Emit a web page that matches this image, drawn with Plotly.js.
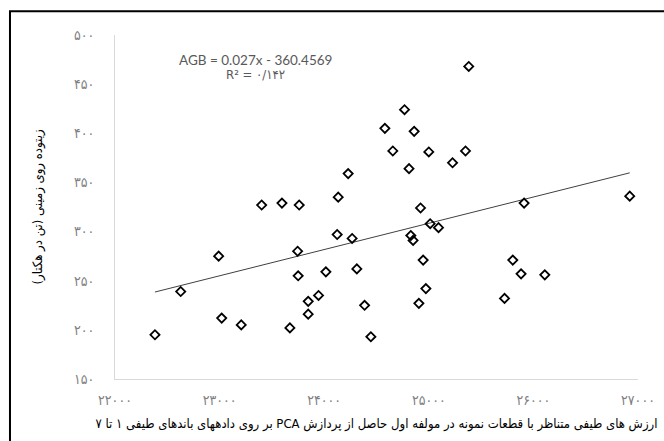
<!DOCTYPE html>
<html>
<head>
<meta charset="utf-8">
<script src="https://cdn.plot.ly/plotly-3.0.1.min.js"></script>
<style>
  html, body { margin: 0; padding: 0; background: #ffffff; }
  #chart { width: 664px; height: 441px; }
</style>
</head>
<body>
<div id="chart"></div>
<script>
// Spectral values (PCA first component) of sample plots
const xValues = [22382, 22628, 22991, 23020, 23207, 23402, 23596, 23672, 23746, 23751,
                 23761, 23847, 23847, 23946, 24016, 24124, 24134, 24229, 24267, 24312,
                 24386, 24446, 24580, 24656, 24768, 24811, 24828, 24850, 24860, 24905,
                 24921, 24946, 24972, 25000, 25013, 25093, 25227, 25351, 25382, 25724,
                 25803, 25882, 25911, 26109, 26921];
// Above-ground biomass (t/ha)
const yValues = [195, 239, 275, 212, 205, 327, 329, 202, 280, 255,
                 327, 229, 216, 235, 259, 297, 335, 359, 293, 262,
                 225, 193, 405, 382, 424, 364, 296, 291, 402, 227,
                 324, 271, 242, 381, 308, 304, 370, 382, 468, 232,
                 271, 257, 329, 256, 336];

const xTickVals = [22000, 23000, 24000, 25000, 26000, 27000];
const xTickText = ['۲۲۰۰۰', '۲۳۰۰۰', '۲۴۰۰۰', '۲۵۰۰۰', '۲۶۰۰۰', '۲۷۰۰۰'];
const yTickVals = [150, 200, 250, 300, 350, 400, 450, 500];
const yTickText = ['۱۵۰', '۲۰۰', '۲۵۰', '۳۰۰', '۳۵۰', '۴۰۰', '۴۵۰', '۵۰۰'];

const equationText = 'AGB = 0.027x - 360.4569';
const r2Text = 'R² = ۰/۱۴۲';
const RLE = '\u202B', PDF = '\u202C';
const xTitle = 'ارزش های طیفی متناظر با قطعات نمونه در مولفه اول حاصل از پردازش PCA بر روی دادههای باندهای طیفی ۱ تا ۷';
const yTitle = 'زیتوده روی زمینی (تن در هکتار)';

// Linear least-squares trend line computed from the data
const n = xValues.length;
let sx = 0, sy = 0, sxx = 0, sxy = 0;
for (let i = 0; i < n; i++) {
  sx += xValues[i]; sy += yValues[i];
  sxx += xValues[i] * xValues[i]; sxy += xValues[i] * yValues[i];
}
const slope = (n * sxy - sx * sy) / (n * sxx - sx * sx);
const intercept = (sy - slope * sx) / n;
const xMin = Math.min(...xValues), xMax = Math.max(...xValues);
const trendX = [xMin, xMax];
const trendY = trendX.map(v => slope * v + intercept);

const arabicFont = 'DejaVu Sans Condensed, DejaVu Sans, sans-serif';
const tickFont = { family: arabicFont, size: 14, color: '#7f7f7f' };

const data = [
  {
    x: trendX, y: trendY, type: 'scatter', mode: 'lines',
    line: { color: '#404040', width: 1 }, hoverinfo: 'skip', showlegend: false
  },
  {
    x: xValues, y: yValues, type: 'scatter', mode: 'markers',
    marker: { symbol: 'diamond-open', size: 7, color: '#000000', line: { color: '#000000', width: 1.8 } },
    showlegend: false
  }
];

const layout = {
  width: 664, height: 441,
  margin: { l: 115, r: 26, t: 35, b: 62 },
  paper_bgcolor: '#ffffff', plot_bgcolor: '#ffffff',
  font: { family: arabicFont, color: '#000000' },
  xaxis: {
    range: [22000, 27000], tickvals: xTickVals, ticktext: xTickText,
    showgrid: false, zeroline: false, showline: true, linecolor: '#d9d9d9', linewidth: 1,
    ticks: '', ticklabelstandoff: 8, tickfont: tickFont,
    title: { text: RLE + xTitle + PDF, font: { family: arabicFont, size: 13, color: '#000000' }, standoff: 12 }
  },
  yaxis: {
    range: [150, 500], tickvals: yTickVals, ticktext: yTickText,
    showgrid: false, zeroline: false, showline: true, linecolor: '#d9d9d9', linewidth: 1,
    ticks: '', ticklabelstandoff: 17, tickfont: tickFont,
    title: { text: RLE + yTitle + PDF, font: { family: arabicFont, size: 13, color: '#000000' }, standoff: 28 }
  },
  annotations: [
    { xref: 'paper', yref: 'paper', x: 0.2677, y: 0.928, text: equationText, showarrow: false,
      xanchor: 'center', yanchor: 'middle', font: { family: 'Lato, sans-serif', size: 13.5, color: '#595959' } },
    { xref: 'paper', yref: 'paper', x: 0.2677, y: 0.884, text: r2Text, showarrow: false,
      xanchor: 'center', yanchor: 'middle', font: { family: 'DejaVu Sans Condensed, DejaVu Sans, sans-serif', size: 13, color: '#595959' } }
  ],
  shapes: [
    { type: 'rect', xref: 'paper', yref: 'paper', x0: -0.2008, x1: 1.6, y0: -0.5, y1: 1.0687,
      line: { color: '#000000', width: 2 }, fillcolor: 'rgba(0,0,0,0)', layer: 'above' }
  ]
};

Plotly.newPlot('chart', data, layout, { displayModeBar: false, staticPlot: true });
</script>
</body>
</html>
